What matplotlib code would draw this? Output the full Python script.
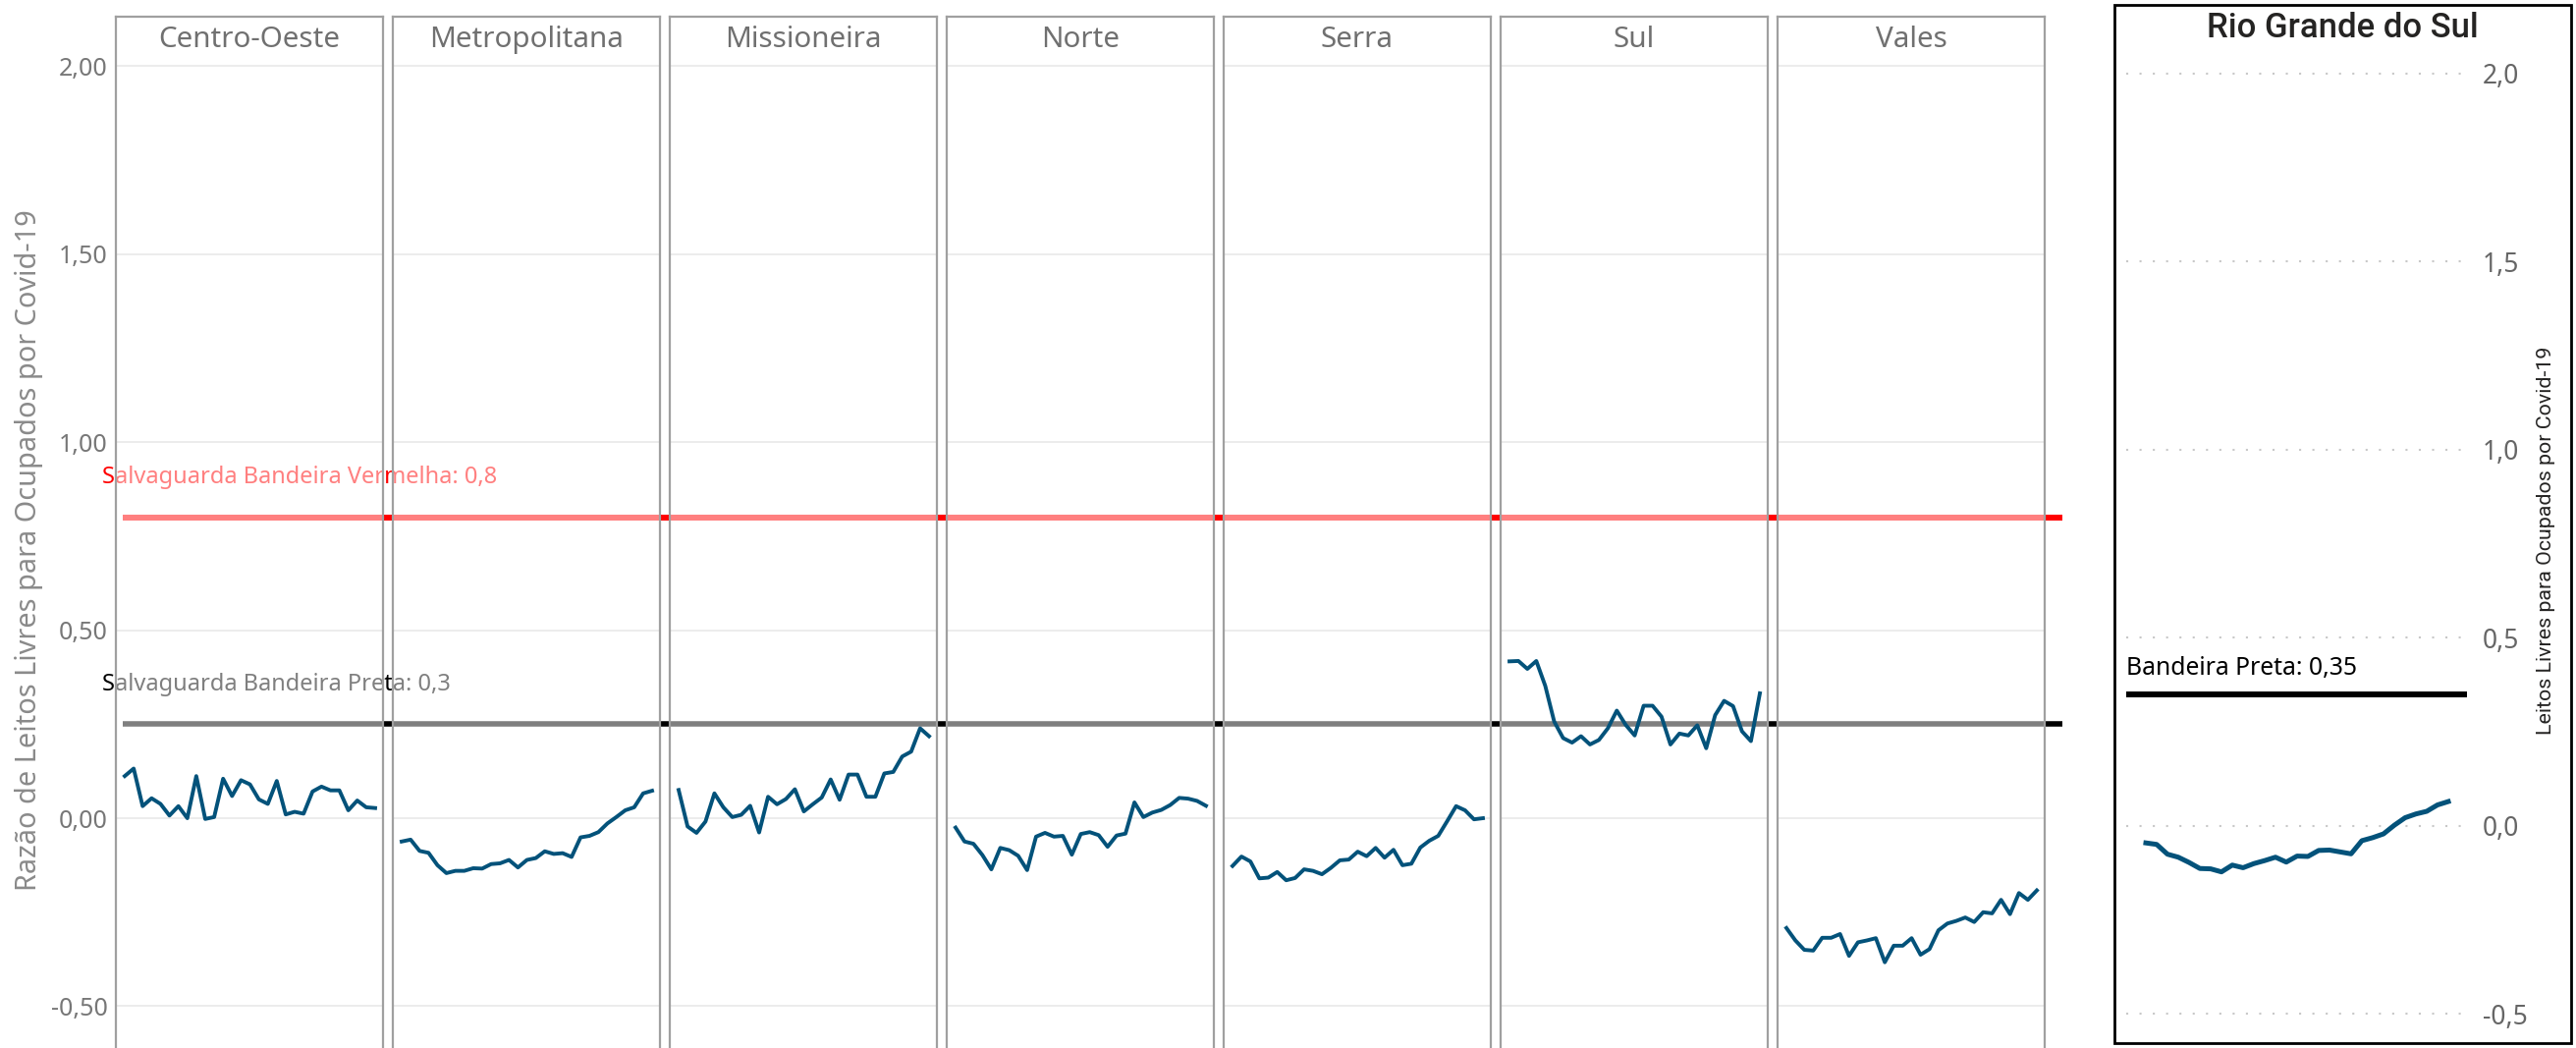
"""Razão de leitos livres para ocupados por Covid-19 - regiões do RS."""

import matplotlib

matplotlib.use("Agg")
import matplotlib.pyplot as plt
from matplotlib.patches import Rectangle

W, H = 2623, 1067

regions = ["Centro-Oeste", "Metropolitana", "Missioneira", "Norte", "Serra", "Sul", "Vales"]

centro_oeste = [0.112, 0.132, 0.032, 0.053, 0.038, 0.007, 0.032, 0.000, 0.112, -0.002,
                0.003, 0.105, 0.059, 0.101, 0.090, 0.050, 0.038, 0.099, 0.010, 0.017,
                0.012, 0.071, 0.084, 0.074, 0.074, 0.021, 0.047, 0.029, 0.027]
metropolitana = [-0.062, -0.057, -0.087, -0.092, -0.125, -0.146, -0.140, -0.140, -0.133, -0.134,
                 -0.122, -0.120, -0.111, -0.131, -0.111, -0.106, -0.088, -0.095, -0.093, -0.103,
                 -0.051, -0.047, -0.037, -0.014, 0.003, 0.021, 0.029, 0.066, 0.073]
missioneira = [0.075, -0.022, -0.039, -0.009, 0.066, 0.029, 0.003, 0.009, 0.033, -0.038,
               0.057, 0.037, 0.051, 0.077, 0.018, 0.037, 0.055, 0.103, 0.049, 0.116,
               0.116, 0.057, 0.057, 0.119, 0.123, 0.164, 0.177, 0.239, 0.218]
norte = [-0.025, -0.062, -0.068, -0.098, -0.136, -0.079, -0.085, -0.100, -0.138, -0.049,
         -0.039, -0.049, -0.047, -0.097, -0.042, -0.037, -0.045, -0.076, -0.046, -0.041,
         0.042, 0.003, 0.015, 0.022, 0.035, 0.054, 0.052, 0.046, 0.033]
serra = [-0.127, -0.102, -0.115, -0.160, -0.158, -0.143, -0.165, -0.159, -0.136, -0.140,
         -0.149, -0.132, -0.112, -0.110, -0.089, -0.101, -0.079, -0.105, -0.084, -0.125,
         -0.121, -0.078, -0.060, -0.047, -0.008, 0.032, 0.021, -0.003, 0.000]
sul = [0.417, 0.418, 0.397, 0.418, 0.352, 0.257, 0.213, 0.201, 0.218, 0.196,
       0.208, 0.239, 0.286, 0.248, 0.220, 0.299, 0.299, 0.270, 0.196, 0.225,
       0.220, 0.247, 0.186, 0.274, 0.312, 0.298, 0.231, 0.205, 0.332]
vales = [-0.292, -0.325, -0.350, -0.352, -0.318, -0.318, -0.308, -0.366, -0.330, -0.325,
         -0.319, -0.383, -0.339, -0.339, -0.319, -0.363, -0.348, -0.298, -0.280, -0.273,
         -0.264, -0.276, -0.250, -0.253, -0.217, -0.255, -0.199, -0.217, -0.192]
series = [centro_oeste, metropolitana, missioneira, norte, serra, sul, vales]

rio_grande_do_sul = [-0.046, -0.050, -0.076, -0.084, -0.098, -0.114, -0.115, -0.123, -0.105, -0.112,
                     -0.101, -0.093, -0.084, -0.097, -0.081, -0.082, -0.066, -0.065, -0.070, -0.075,
                     -0.040, -0.032, -0.022, 0.001, 0.021, 0.031, 0.038, 0.055, 0.064]

left_ticks = [-0.5, 0.0, 0.5, 1.0, 1.5, 2.0]
right_ticks = [-0.5, 0.0, 0.5, 1.0, 1.5, 2.0]
vermelha = 0.8
preta_regional = 0.25
preta_rs = 0.35

BLUE = "#03527a"
SEGOE = ["Noto Sans", "DejaVu Sans"]
DIN = ["Roboto", "DejaVu Sans"]


def fig_rect(x0, y0, x1, y1):
    # pixel box (top-left origin) -> figure fraction
    return [x0 / W, 1 - y1 / H, (x1 - x0) / W, (y1 - y0) / H]


plt.rcParams["font.family"] = SEGOE
fig = plt.figure(figsize=(W / 100, H / 100), dpi=100)

ylim = (-0.611, 2.131)
top_px, bot_px = 17, 1067

# background layer with threshold lines (seen fully only between panels)
bg = fig.add_axes(fig_rect(0, top_px, W, bot_px), zorder=0)
bg.set_xlim(0, W)
bg.set_ylim(*ylim)
bg.axis("off")
bg.hlines(vermelha, 125, 2100, color="#ff0000", lw=4.3)
bg.hlines(preta_regional, 125, 2100, color="#000000", lw=4.0)
bg.annotate("Salvaguarda Bandeira Vermelha: 0,8", (104, vermelha), xytext=(0, 29),
            textcoords="offset points", va="center", ha="left", color="#ff0000", fontsize=17)
bg.annotate("Salvaguarda Bandeira Preta: 0,3", (104, preta_regional), xytext=(0, 29),
            textcoords="offset points", va="center", ha="left", color="#000000", fontsize=17)

n = len(centro_oeste)
for i, (name, values) in enumerate(zip(regions, series)):
    x0 = 118 + i * 282
    ax = fig.add_axes(fig_rect(x0, top_px, x0 + 272, bot_px), zorder=1)
    ax.set_facecolor((1, 1, 1, 0.5))
    ax.plot(range(n), values, color=BLUE, lw=2.8, zorder=3)
    ax.set_xlim(-0.99, n - 1 + 0.88)
    ax.set_ylim(*ylim)
    ax.set_yticks(left_ticks)
    ax.grid(axis="y", color="#ebebeb", lw=1.3)
    ax.set_axisbelow(True)
    ax.set_xticks([])
    ax.tick_params(axis="y", length=0, pad=6, labelsize=18, labelcolor="#777777")
    if i == 0:
        ax.set_yticklabels([f"{t:.2f}".replace(".", ",") for t in left_ticks])
    else:
        ax.tick_params(axis="y", labelleft=False)
    for side in ["left", "right", "top"]:
        ax.spines[side].set_color("#a0a0a0")
        ax.spines[side].set_linewidth(1.6)
    ax.spines["bottom"].set_visible(False)
    ax.text(0.5, 0.978, name, transform=ax.transAxes, ha="center", va="center",
            fontsize=21.3, color="#707070")

fig.text(30 / W, 1 - 560 / H, "Razão de Leitos Livres para Ocupados por Covid-19",
         rotation=90, ha="center", va="center", fontsize=20.8, color="#8a8a8a")

# Rio Grande do Sul panel
fig.add_artist(Rectangle((2153 / W, 1 - 1062 / H), (2618 - 2153) / W, (1062 - 5) / H,
                         transform=fig.transFigure, fill=False, ec="black", lw=2))
rs = fig.add_axes(fig_rect(2165, 50, 2512, 1050))
rs.plot(range(n), rio_grande_do_sul, color=BLUE, lw=3.6, zorder=3)
rs.axhline(preta_rs, color="black", lw=4.3)
rs.annotate("Bandeira Preta: 0,35", (0, preta_rs), xycoords=("axes fraction", "data"),
            xytext=(0, 19), textcoords="offset points", va="center", ha="left",
            fontsize=17.8, color="black")
rs.set_xlim(-1.82, n - 1 + 1.73)
rs.set_ylim(-0.547, 2.065)
rs.set_yticks(right_ticks)
rs.set_yticklabels([f"{t:.1f}".replace(".", ",") for t in right_ticks])
rs.yaxis.tick_right()
rs.tick_params(axis="y", length=0, pad=11.5, labelsize=19, labelcolor="#666666")
rs.set_xticks([])
rs.grid(axis="y", color="#c8c8c8", lw=1.5, linestyle=(0, (1, 5.5)))
for side in rs.spines.values():
    side.set_visible(False)

fig.text(2385 / W, 1 - 28 / H, "Rio Grande do Sul", ha="center", va="center",
         fontsize=25, color="#252423", family=DIN, weight="medium")
fig.text(2593 / W, 1 - 550 / H, "Leitos Livres para Ocupados por Covid-19", rotation=90,
         ha="center", va="center", fontsize=15.4, color="#252423", family=DIN)

fig.savefig("out.png", dpi=100)
